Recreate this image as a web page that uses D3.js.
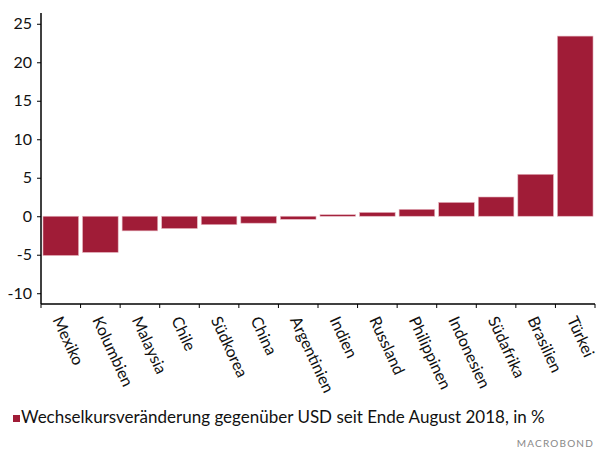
<!DOCTYPE html>
<html>
<head>
<meta charset="utf-8">
<script src="https://cdn.jsdelivr.net/npm/d3@7"></script>
<style>
  body { margin: 0; background: #fff; }
  text { font-family: Lato, "Noto Sans", sans-serif; }
</style>
</head>
<body>
<div id="chart"></div>
<script>
// chart data
const countries = ['Mexiko', 'Kolumbien', 'Malaysia', 'Chile', 'Südkorea', 'China', 'Argentinien',
  'Indien', 'Russland', 'Philippinen', 'Indonesien', 'Südafrika', 'Brasilien', 'Türkei']
const changes = [-5.1, -4.7, -1.9, -1.6, -1.1, -0.9, -0.4, 0.2, 0.5, 0.9, 1.8, 2.5, 5.45, 23.4]
const yTicks = [-10, -5, 0, 5, 10, 15, 20, 25]
const legendLabel = 'Wechselkursveränderung gegenüber USD seit Ende August 2018, in %'

const width = 601,
  height = 450
const plotLeft = 41, plotRight = 595, plotTop = 13, plotBottom = 304
const barColor = '#a01c37'

const svg = d3.select('#chart')
  .append('svg')
  .attr('width', width)
  .attr('height', height)

const x = d3.scaleBand()
  .domain(countries)
  .range([plotLeft, plotRight])
  .paddingInner(0.1)
  .paddingOuter(0.05)

const y = d3.scaleLinear()
  .domain([-11.4, 26.4])
  .range([plotBottom, plotTop])

// bars
svg.selectAll('rect.bar')
  .data(countries)
  .enter()
  .append('rect')
  .attr('class', 'bar')
  .attr('x', d => x(d))
  .attr('width', x.bandwidth())
  .attr('y', (d, i) => y(Math.max(0, changes[i])))
  .attr('height', (d, i) => Math.abs(y(changes[i]) - y(0)))
  .attr('fill', barColor)
  .attr('stroke', '#e6b5bf')
  .attr('stroke-width', 0.6)

// y axis
const yAxis = d3.axisLeft(y).tickValues(yTicks).tickSize(4).tickPadding(5)
  .tickFormat(d => String(d))
const gy = svg.append('g')
  .attr('transform', `translate(${plotLeft},0)`)
  .call(yAxis)
gy.select('.domain').attr('stroke', '#000').attr('stroke-width', 1.5)
  .attr('d', `M0,${plotTop}V${plotBottom}`)
gy.selectAll('text').attr('font-size', 16).attr('fill', '#111')
  .attr('font-family', 'Lato, "Noto Sans", sans-serif')

// x axis with ticks between categories
const xAxis = d3.axisBottom(x).tickSize(0).tickFormat('')
const gx = svg.append('g')
  .attr('transform', `translate(0,${plotBottom})`)
  .call(xAxis)
gx.select('.domain').attr('stroke', '#000').attr('stroke-width', 1.5)
  .attr('d', `M${plotLeft},0H${plotRight}`)
const sepX = i => plotLeft + i * (plotRight - plotLeft) / countries.length
gx.selectAll('line.sep')
  .data(d3.range(countries.length + 1))
  .enter()
  .append('line')
  .attr('class', 'sep')
  .attr('x1', sepX)
  .attr('x2', sepX)
  .attr('y1', 0)
  .attr('y2', 4)
  .attr('stroke', '#000')
  .attr('stroke-width', 1)

gx.selectAll('text.lbl')
  .data(countries)
  .enter()
  .append('text')
  .attr('class', 'lbl')
  .attr('transform', d => `translate(${x(d) + x.bandwidth() / 2 + 2},11) rotate(65)`)
  .attr('text-anchor', 'start')
  .attr('font-family', 'Lato, "Noto Sans", sans-serif')
  .attr('font-size', 16)
  .attr('fill', '#111')
  .attr('dy', '0.72em')
  .text(d => d)

// legend
svg.append('rect')
  .attr('x', 13)
  .attr('y', 415)
  .attr('width', 7)
  .attr('height', 7)
  .attr('fill', barColor)

svg.append('text')
  .attr('x', 21)
  .attr('y', 423)
  .attr('font-size', 17)
  .attr('fill', '#111')
  .text(legendLabel)

svg.append('text')
  .attr('x', 594)
  .attr('y', 447)
  .attr('text-anchor', 'end')
  .attr('font-size', 10)
  .attr('letter-spacing', 1.2)
  .attr('fill', '#888')
  .text('MACROBOND')
</script>
</body>
</html>
